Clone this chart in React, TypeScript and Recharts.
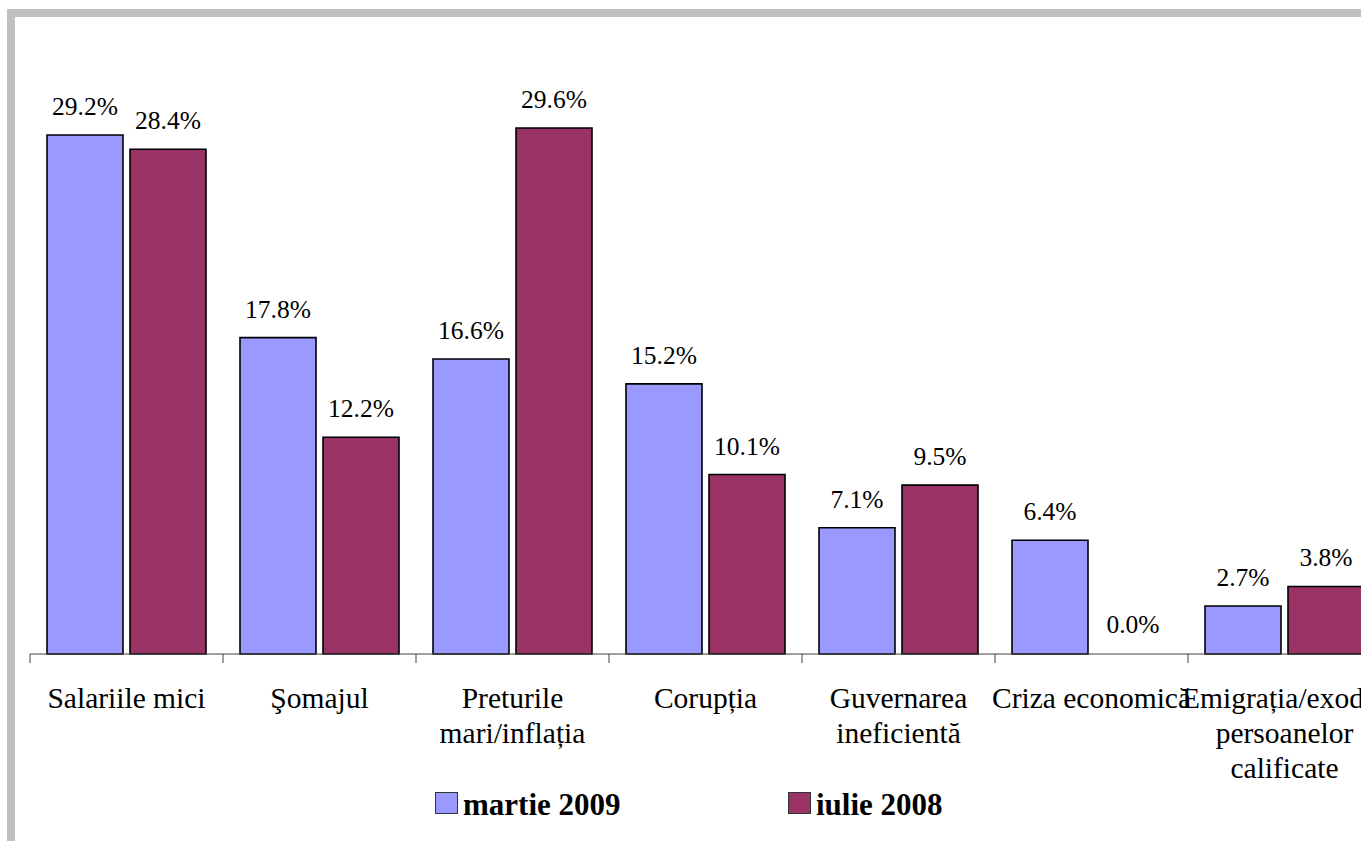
import React from 'react';
import { BarChart, Bar, XAxis, YAxis, Legend, Rectangle } from 'recharts';

const categories = [
  'Salariile mici',
  'Şomajul',
  'Preturile mari/inflația',
  'Corupția',
  'Guvernarea ineficientă',
  'Criza economică',
  'Emigrația/exodul persoanelor calificate',
];
const tickLines = [
  ['Salariile mici'],
  ['Şomajul'],
  ['Preturile', 'mari/inflația'],
  ['Corupția'],
  ['Guvernarea', 'ineficientă'],
  ['Criza economică'],
  ['Emigrația/exodul', 'persoanelor', 'calificate'],
];
const martie2009 = [29.2, 17.8, 16.6, 15.2, 7.1, 6.4, 2.7];
const iulie2008 = [28.4, 12.2, 29.6, 10.1, 9.5, 0.0, 3.8];
const seriesKeys = ['m2009', 'i2008'];
const seriesNames = ['martie 2009', 'iulie 2008'];
const seriesColors = ['#9999FF', '#993366'];

const data = categories.map((c, i) => ({
  name: c,
  m2009: martie2009[i],
  i2008: iulie2008[i],
}));

const SERIF = 'Liberation Serif, Times New Roman, serif';

const CategoryTick = (props: any) => {
  const { x, y, payload, index } = props;
  const half = payload && typeof payload.offset === 'number' && payload.offset > 0 ? payload.offset : 96.5;
  const idx = categories.indexOf(payload.value);
  const lines = tickLines[idx >= 0 ? idx : index] || [String(payload.value)];
  return (
    <g>
      <line x1={x - half} y1={y} x2={x - half} y2={y + 9} stroke="#404040" strokeWidth={1} />
      <text x={x} y={y} textAnchor="middle" fontFamily={SERIF} fontSize={29.5} fill="#000">
        {lines.map((l: string, k: number) => (
          <tspan key={k} x={x} y={y + 54 + k * 35}>
            {l}
          </tspan>
        ))}
      </text>
    </g>
  );
};

const LegendContent = () => (
  <div
    style={{
      display: 'flex',
      flexDirection: 'row',
      alignItems: 'flex-start',
      paddingLeft: 435,
      fontFamily: SERIF,
      fontWeight: 'bold',
      fontSize: 31,
      lineHeight: '31px',
      color: '#000',
    }}
  >
    {seriesNames.map((n, i) => (
      <div key={n} style={{ display: 'flex', alignItems: 'flex-start', width: i === 0 ? 353 : 200 }}>
        <div
          style={{
            width: 21,
            height: 20,
            marginTop: 3,
            background: seriesColors[i],
            border: '1.5px solid #333',
            marginRight: 5,
          }}
        />
        <span>{n}</span>
      </div>
    ))}
  </div>
);

const renderValueLabel = (p: any) => {
  const { x, y, width, value, index } = p;
  if (x == null || y == null) return null;
  const v = Array.isArray(value) ? value[1] - value[0] : Number(value);
  return (
    <text
      key={`lbl-${index}-${x}`}
      x={Number(x) + Number(width) / 2}
      y={Number(y) - 20}
      textAnchor="middle"
      fontFamily={SERIF}
      fontSize={25.5}
      fill="#000"
    >
      {`${v.toFixed(1)}%`}
    </text>
  );
};

const makeShape = (key: string) => (props: any) => {
  if (props.payload && Number(props.payload[key]) === 0) return <g />;
  return <Rectangle {...props} />;
};

export default function App() {
  return (
    <div
      style={{
        position: 'fixed',
        left: 0,
        top: 0,
        width: 1361,
        height: 841,
        overflow: 'hidden',
        background: '#fff',
      }}
    >
      <div style={{ position: 'absolute', left: 7, top: 9, width: 1354, height: 8, background: '#c0c0c0' }} />
      <div style={{ position: 'absolute', left: 7, top: 9, width: 8, height: 832, background: '#c0c0c0' }} />
      <div style={{ position: 'absolute', left: 0, top: 0 }}>
        <BarChart
          width={1420}
          height={841}
          data={data}
          margin={{ top: 32, right: 39, left: 30, bottom: 47 }}
          barCategoryGap={17}
          barGap={7}
        >
          <XAxis
            dataKey="name"
            height={140}
            interval={0}
            tickLine={false}
            tickSize={0}
            tickMargin={0}
            axisLine={{ stroke: '#404040', strokeWidth: 1 }}
            tick={<CategoryTick />}
          />
          <YAxis hide domain={[0, 35]} />
          <Legend
            verticalAlign="middle"
            align="center"
            layout="horizontal"
            wrapperStyle={{ top: 789, left: 0, width: 1361 }}
            content={<LegendContent />}
          />
          {seriesKeys.map((k, i) => (
            <Bar
              key={k}
              dataKey={k}
              name={seriesNames[i]}
              fill={seriesColors[i]}
              stroke="#000"
              strokeWidth={1.6}
              minPointSize={1}
              shape={makeShape(k)}
              isAnimationActive={false}
              label={renderValueLabel}
            />
          ))}
        </BarChart>
      </div>
    </div>
  );
}
